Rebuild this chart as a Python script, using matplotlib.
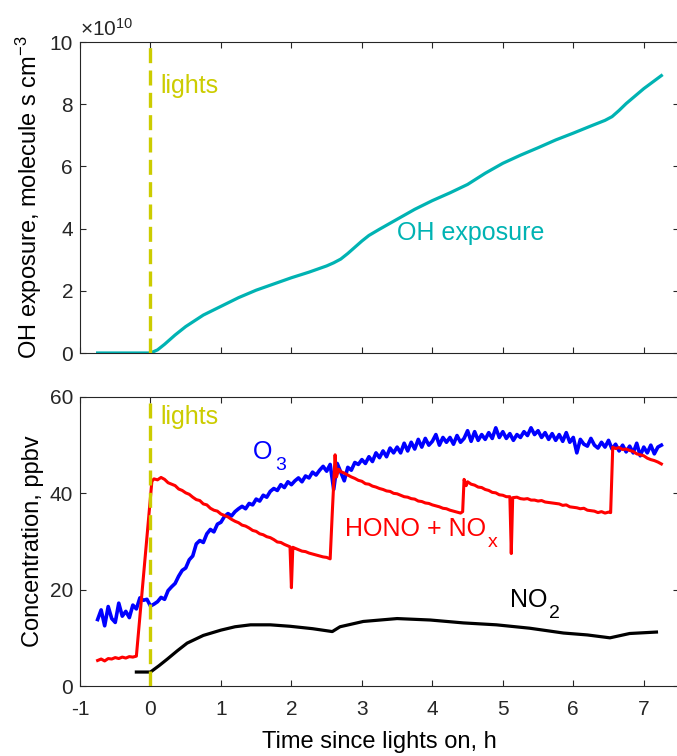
import matplotlib
matplotlib.use('Agg')
import matplotlib.pyplot as plt

plt.rcParams['font.family'] = ['Liberation Sans', 'DejaVu Sans']
plt.rcParams['mathtext.fontset'] = 'custom'
plt.rcParams['mathtext.rm'] = 'Liberation Sans'
plt.rcParams['mathtext.it'] = 'Liberation Sans:italic'
plt.rcParams['mathtext.default'] = 'regular'
plt.rcParams['axes.unicode_minus'] = False

# OH exposure, units of 1e10 molecule s cm-3
oh_time = [-0.75, 0.0, 0.1, 0.2, 0.35, 0.5, 0.75, 1.0, 1.25, 1.5, 1.75, 2.0, 2.25,
           2.5, 2.6, 2.7, 2.8, 2.9, 3.0, 3.1, 3.25, 3.5, 3.75, 4.0, 4.25, 4.5,
           4.75, 5.0, 5.25, 5.5, 5.75, 6.0, 6.25, 6.45, 6.55, 6.65, 6.75, 7.0, 7.25]
oh_exposure = [0.0, 0.0, 0.1, 0.28, 0.58, 0.85, 1.22, 1.5, 1.78, 2.02, 2.22, 2.42, 2.6,
               2.8, 2.9, 3.02, 3.2, 3.4, 3.6, 3.78, 3.98, 4.3, 4.62, 4.9, 5.15, 5.42,
               5.78, 6.1, 6.36, 6.6, 6.85, 7.07, 7.3, 7.48, 7.6, 7.8, 8.02, 8.5, 8.92]

# O3, ppbv
o3_time = [-0.75, -0.70, -0.65, -0.60, -0.55, -0.50, -0.45, -0.40, -0.35, -0.30,
           -0.25, -0.20, -0.15, -0.10, -0.05, 0.00, 0.05, 0.10, 0.15, 0.20,
           0.25, 0.30, 0.35, 0.40, 0.45, 0.50, 0.55, 0.60, 0.65, 0.70,
           0.75, 0.80, 0.85, 0.90, 0.95, 1.00, 1.05, 1.10, 1.15, 1.20,
           1.25, 1.30, 1.35, 1.40, 1.45, 1.50, 1.55, 1.60, 1.65, 1.70,
           1.75, 1.80, 1.85, 1.90, 1.95, 2.00, 2.05, 2.10, 2.15, 2.20,
           2.25, 2.30, 2.35, 2.40, 2.45, 2.50, 2.55, 2.60, 2.65, 2.70,
           2.75, 2.80, 2.85, 2.90, 2.95, 3.00, 3.05, 3.10, 3.15, 3.20,
           3.25, 3.30, 3.35, 3.40, 3.45, 3.50, 3.55, 3.60, 3.65, 3.70,
           3.75, 3.80, 3.85, 3.90, 3.95, 4.00, 4.05, 4.10, 4.15, 4.20,
           4.25, 4.30, 4.35, 4.40, 4.45, 4.50, 4.55, 4.60, 4.65, 4.70,
           4.75, 4.80, 4.85, 4.90, 4.95, 5.00, 5.05, 5.10, 5.15, 5.20,
           5.25, 5.30, 5.35, 5.40, 5.45, 5.50, 5.55, 5.60, 5.65, 5.70,
           5.75, 5.80, 5.85, 5.90, 5.95, 6.00, 6.05, 6.10, 6.15, 6.20,
           6.25, 6.30, 6.35, 6.40, 6.45, 6.50, 6.55, 6.60, 6.65, 6.70,
           6.75, 6.80, 6.85, 6.90, 6.95, 7.00, 7.05, 7.10, 7.15, 7.20, 7.25]
o3 = [13.8, 15.8, 12.5, 16.5, 14.0, 13.2, 17.2, 14.5, 15.5, 14.2,
      16.8, 16.0, 18.3, 17.8, 18.0, 16.6, 17.0, 17.5, 18.4, 18.0,
      19.8, 20.6, 21.3, 22.8, 24.0, 24.5, 26.2, 27.0, 29.5, 30.2,
      29.8, 31.6, 32.5, 32.0, 33.6, 34.0, 35.2, 35.8, 35.3, 36.2,
      36.8, 37.3, 36.8, 37.9, 37.6, 38.8, 38.4, 39.6, 39.2, 40.4,
      41.0, 40.6, 41.8, 41.2, 42.4, 41.8, 42.6, 43.2, 42.4, 43.6,
      43.2, 44.4, 43.8, 44.8, 45.6, 44.6, 46.0, 40.8, 46.2, 44.4,
      42.6, 45.4, 44.8, 46.4, 46.0, 47.0, 46.2, 47.6, 46.6, 48.4,
      47.4, 48.8, 47.6, 49.4, 48.4, 49.6, 48.4, 50.4, 48.8, 50.6,
      49.2, 51.2, 49.6, 51.4, 50.0, 50.8, 52.2, 50.0, 51.6, 50.6,
      51.6, 50.2, 52.0, 50.6, 51.4, 53.0, 50.8, 52.8, 51.0, 52.2,
      51.2, 52.6, 51.4, 53.6, 51.6, 52.8, 51.4, 52.4, 51.0, 52.2,
      51.6, 52.8, 52.0, 53.6, 52.2, 53.0, 51.6, 52.6, 51.2, 52.4,
      51.0, 52.2, 50.8, 52.6, 50.6, 51.6, 48.4, 51.2, 50.2, 49.8,
      51.4, 50.0, 49.4, 50.6, 49.6, 51.0, 49.2, 50.2, 48.8, 50.0,
      48.6, 49.8, 48.4, 50.4, 47.8, 49.6, 48.4, 50.0, 48.2, 49.6, 50.0]

# HONO + NOx, ppbv
nox_time = [-0.75, -0.70, -0.65, -0.60, -0.55, -0.50, -0.45, -0.40, -0.35, -0.30,
            -0.25, -0.20, 0.02, 0.05, 0.10, 0.15, 0.20, 0.25, 0.30, 0.35,
            0.40, 0.45, 0.50, 0.55, 0.60, 0.65, 0.70, 0.75, 0.80, 0.85,
            0.90, 0.95, 1.00, 1.05, 1.10, 1.15, 1.20, 1.25, 1.30, 1.35,
            1.40, 1.45, 1.50, 1.55, 1.60, 1.65, 1.70, 1.75, 1.80, 1.85,
            1.90, 1.95, 1.98, 2.00, 2.02, 2.05, 2.10, 2.15, 2.20, 2.25,
            2.30, 2.35, 2.40, 2.45, 2.50, 2.55, 2.58, 2.62, 2.64, 2.67,
            2.70, 2.75, 2.80, 2.85, 2.90, 2.95, 3.00, 3.05, 3.10, 3.15,
            3.20, 3.25, 3.30, 3.35, 3.40, 3.45, 3.50, 3.55, 3.60, 3.65,
            3.70, 3.75, 3.80, 3.85, 3.90, 3.95, 4.00, 4.05, 4.10, 4.15,
            4.20, 4.25, 4.30, 4.35, 4.40, 4.43, 4.45, 4.48, 4.50, 4.55,
            4.60, 4.65, 4.70, 4.75, 4.80, 4.85, 4.90, 4.95, 5.00, 5.05,
            5.10, 5.12, 5.14, 5.20, 5.25, 5.30, 5.35, 5.40, 5.45, 5.50,
            5.55, 5.60, 5.65, 5.70, 5.75, 5.80, 5.85, 5.90, 5.95, 6.00,
            6.05, 6.10, 6.15, 6.20, 6.25, 6.30, 6.35, 6.40, 6.45, 6.50,
            6.53, 6.56, 6.60, 6.65, 6.70, 6.75, 6.80, 6.85, 6.90, 6.95,
            7.00, 7.05, 7.10, 7.15, 7.20, 7.25]
hono_nox = [5.3, 5.6, 5.2, 5.7, 5.6, 5.9, 5.7, 6.0, 5.8, 6.1,
            6.0, 6.2, 42.5, 43.0, 42.8, 43.3, 42.9, 42.2, 41.9, 41.6,
            40.9, 40.6, 40.1, 39.8, 39.2, 38.7, 38.5, 37.8, 37.6, 36.9,
            36.5, 36.3, 35.7, 35.4, 35.1, 34.6, 34.2, 33.9, 33.4, 33.2,
            32.8, 32.3, 32.1, 31.6, 31.4, 31.0, 30.8, 30.4, 29.9, 29.8,
            29.4, 29.1, 28.9, 20.4, 28.8, 28.6, 28.3, 28.0, 27.9, 27.6,
            27.4, 27.2, 27.0, 26.8, 26.7, 26.4, 36.0, 48.0, 43.4, 45.0,
            44.5, 44.2, 43.8, 43.4, 43.1, 42.7, 42.5, 42.0, 41.9, 41.5,
            41.3, 41.0, 40.8, 40.5, 40.4, 40.0, 39.9, 39.6, 39.3, 39.2,
            38.9, 38.8, 38.4, 38.3, 38.0, 37.9, 37.6, 37.4, 37.2, 36.9,
            36.8, 36.5, 36.3, 36.1, 35.9, 36.2, 42.9, 41.6, 42.4, 41.9,
            41.7, 41.3, 41.2, 40.8, 40.6, 40.2, 40.1, 39.7, 39.6, 39.3,
            39.3, 27.5, 39.1, 39.2, 38.9, 38.8, 38.9, 38.6, 38.6, 38.4,
            38.5, 38.2, 38.1, 38.0, 37.9, 37.8, 37.5, 37.6, 37.2, 37.1,
            37.0, 36.8, 36.9, 36.5, 36.4, 36.3, 36.0, 36.2, 35.9, 36.1,
            36.0, 49.6, 49.3, 49.5, 49.1, 49.2, 48.9, 48.7, 48.2, 48.0,
            47.8, 47.3, 47.0, 46.8, 46.5, 46.1]

# NO2, ppbv
no2_time = [-0.2, 0.0, 0.12, 0.24, 0.38, 0.52, 0.75, 1.0, 1.2, 1.42, 1.7, 1.98,
            2.3, 2.58, 2.69, 3.02, 3.5, 3.97, 4.44, 4.91, 5.38, 5.86, 6.2, 6.52,
            6.8, 7.18]
no2 = [2.9, 2.9, 4.2, 5.6, 7.3, 8.9, 10.5, 11.6, 12.3, 12.7, 12.7, 12.4,
       11.9, 11.3, 12.3, 13.4, 14.0, 13.7, 13.1, 12.7, 12.0, 11.0, 10.6, 10.0,
       10.9, 11.2]

cyan = '#00B3B3'
yellow = '#CCCC00'
axcol = '#262626'

fig = plt.figure(figsize=(6.77, 7.56), dpi=100)
ax1 = fig.add_axes([80/677, 1 - 353/756, 599/677, 311/756])
ax2 = fig.add_axes([80/677, 1 - 686/756, 599/677, 289/756])


def sub_label(ax, x, y, base, sub, color):
    # MATLAB-like subscript: larger and lower than mathtext
    t = ax.text(x, y, base, color=color, fontsize=18, va='center')
    ax.annotate(sub, xy=(1, 0), xycoords=t, xytext=(1.5, 5.5),
                textcoords='offset points', color=color, fontsize=14,
                ha='left', va='top')


# top panel
ax1.plot(oh_time, oh_exposure, color=cyan, lw=2.3)
ax1.plot([0, 0], [0, 10], color=yellow, lw=2.4, dashes=(4.5, 2.2), zorder=5)
ax1.text(0.14, 8.6, 'lights', color=yellow, fontsize=18, va='center')
ax1.text(3.5, 3.85, 'OH exposure', color=cyan, fontsize=18, va='center')
ax1.set_ylim(0, 10)
ax1.set_yticks([0, 2, 4, 6, 8, 10])
ax1.set_ylabel('OH exposure, molecule s cm$^{-3}$', fontsize=17)
ax1.text(0.0, 1.008, r'$\times10^{10}$', transform=ax1.transAxes, fontsize=15,
         color=axcol, ha='left', va='bottom')
ax1.tick_params(labelbottom=False)

# bottom panel
ax2.plot(o3_time, o3, color='blue', lw=2.6)
ax2.plot(nox_time, hono_nox, color='red', lw=2.2)
ax2.plot(no2_time, no2, color='black', lw=2.3)
ax2.plot([0, 0], [0, 60], color=yellow, lw=2.4, dashes=(4.5, 2.2), zorder=5)
ax2.text(0.14, 55.8, 'lights', color=yellow, fontsize=18, va='center')
sub_label(ax2, 1.46, 48.5, 'O', '3', 'blue')
sub_label(ax2, 2.76, 32.5, 'HONO + NO', 'x', 'red')
sub_label(ax2, 5.1, 17.8, 'NO', '2', 'black')
ax2.set_ylim(0, 60)
ax2.set_yticks([0, 20, 40, 60])
ax2.set_ylabel('Concentration, ppbv', fontsize=17)
ax2.set_xlabel('Time since lights on, h', fontsize=17, labelpad=9)

for ax in (ax1, ax2):
    ax.set_xlim(-1, 7.5)
    ax.set_xticks(range(-1, 8))
    ax.tick_params(direction='in', top=True, right=True, length=4, width=0.8,
                   labelsize=15, colors=axcol)
    ax.tick_params(axis='x', pad=10)
    ax.tick_params(axis='y', pad=5)
    for s in ax.spines.values():
        s.set_color(axcol)
        s.set_linewidth(0.8)
    ax.yaxis.set_label_coords(-0.06, 0.5)

fig.savefig('out.png', dpi=100)
